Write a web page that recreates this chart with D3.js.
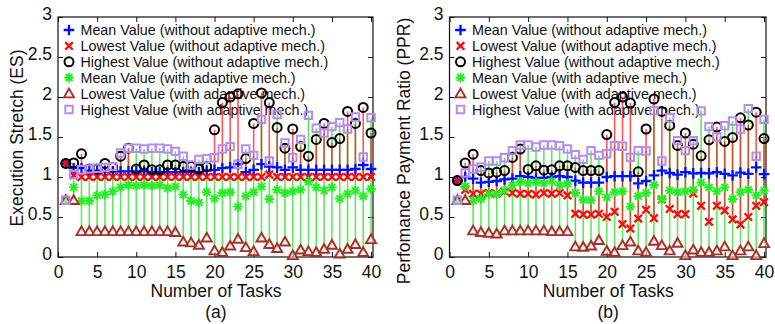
<!DOCTYPE html>
<html><head><meta charset="utf-8">
<script src="https://cdn.jsdelivr.net/npm/d3@7"></script>
<style>body{margin:0;background:#fff}svg text{font-family:"Liberation Sans",Arial,Helvetica,sans-serif;fill:#111}</style>
</head><body><svg id="c" width="775" height="324"></svg>
<script>
const tasks = d3.range(1, 41);
const xTicks = [0, 5, 10, 15, 20, 25, 30, 35, 40];
const yTicks = [0, 0.5, 1, 1.5, 2, 2.5, 3];
const legendLabels = [
  "Mean Value (without adaptive mech.)",
  "Lowest Value (without adaptive mech.)",
  "Highest Value (without adaptive mech.)",
  "Mean Value (with adaptive mech.)",
  "Lowest Value (with adaptive mech.)",
  "Highest Value (with adaptive mech.)"
];

// Panel (a): Execution Stretch
const esMeanWithout = [1.17,1.11,1.11,1.08,1.08,1.07,1.07,1.07,1.07,1.07,1.07,1.06,1.06,1.06,1.06,1.06,1.06,1.06,1.08,1.09,
  1.11,1.12,1.16,1.06,1.09,1.16,1.13,1.12,1.09,1.12,1.09,1.09,1.09,1.09,1.09,1.09,1.09,1.10,1.15,1.10];
const esLowWithout = [1.17,1.02,1.0,1.0,1.0,1.0,1.0,1.0,1.0,1.0,1.0,1.0,1.0,1.0,1.0,1.0,1.0,1.0,1.0,1.0,
  1.0,1.0,1.0,1.0,1.0,1.0,1.03,1.0,1.0,1.0,1.0,1.0,1.0,1.0,1.0,1.0,1.0,1.0,1.0,1.0];
const esHighWithout = [1.17,1.175,1.29,1.10,1.10,1.17,1.12,1.26,1.36,1.10,1.15,1.09,1.09,1.15,1.15,1.13,1.13,1.10,1.13,1.59,
  1.93,2.0,2.04,1.23,1.67,2.05,1.93,1.62,1.36,1.60,1.38,1.26,1.47,1.67,1.43,1.48,1.82,1.67,1.87,1.55];
const esMeanWith = [0.71,0.87,0.70,0.70,0.77,0.78,0.82,0.87,0.90,0.89,0.90,0.89,0.90,0.86,0.88,0.78,0.70,0.68,0.81,0.73,
  0.80,0.81,0.63,0.76,0.81,0.88,0.725,0.84,0.80,0.82,0.84,0.94,0.87,0.83,0.87,0.73,0.79,0.83,0.76,0.85];
const esLowWith = [0.71,0.71,0.32,0.32,0.32,0.32,0.32,0.32,0.32,0.32,0.32,0.32,0.32,0.32,0.31,0.19,0.18,0.15,0.24,0.08,
  0.06,0.14,0.225,0.12,0.07,0.24,0.16,0.11,0.19,0.02,0.09,0.07,0.06,0.10,0.15,0.04,0.10,0.16,0.06,0.22];
const esHighWith = [0.71,1.03,1.09,1.10,1.11,1.12,1.13,1.30,1.36,1.36,1.35,1.36,1.36,1.35,1.32,1.26,1.15,1.22,1.23,1.24,
  1.35,1.38,1.16,1.35,1.27,1.72,1.20,1.78,1.425,1.24,1.47,1.77,1.61,1.55,1.63,1.68,1.60,1.75,1.25,1.74];

// Panel (b): Performance Payment Ratio
const pprMeanWithout = [0.955,1.0,0.98,0.93,0.94,0.95,0.97,0.98,1.01,1.0,0.99,0.99,1.0,1.01,1.0,0.955,0.93,0.93,0.93,1.0,
  1.01,1.01,1.01,0.92,0.95,1.02,1.08,1.05,1.03,1.06,1.045,1.05,1.045,1.06,1.04,1.02,1.055,1.04,1.12,1.035];
const pprLowWithout = [0.955,0.84,0.79,0.79,0.80,0.79,0.82,0.80,0.79,0.79,0.78,0.80,0.79,0.80,0.77,0.54,0.53,0.53,0.54,0.50,
  0.565,0.41,0.355,0.48,0.59,0.485,0.72,0.60,0.535,0.535,0.795,0.64,0.44,0.64,0.58,0.47,0.405,0.50,0.64,0.685];
const pprHighWithout = [0.955,1.175,1.285,1.08,1.05,1.06,1.08,1.245,1.35,1.095,1.14,1.085,1.09,1.14,1.14,1.12,1.08,1.08,1.08,1.53,
  1.93,2.0,1.925,1.065,1.60,1.975,1.82,1.645,1.395,1.55,1.41,1.265,1.465,1.625,1.445,1.495,1.74,1.65,1.81,1.48];
const pprMeanWith = [0.71,0.885,0.705,0.725,0.785,0.785,0.83,0.895,0.94,0.92,0.935,0.92,0.945,0.895,0.915,0.80,0.715,0.71,0.82,0.745,
  0.81,0.82,0.63,0.76,0.80,0.90,0.725,0.83,0.81,0.82,0.84,0.93,0.87,0.82,0.87,0.725,0.81,0.84,0.77,0.83];
const pprLowWith = [0.71,0.71,0.33,0.31,0.30,0.29,0.33,0.33,0.33,0.33,0.33,0.33,0.32,0.32,0.32,0.13,0.125,0.14,0.21,0.075,
  0.06,0.145,0.19,0.08,0.06,0.20,0.145,0.08,0.175,0.02,0.09,0.06,0.06,0.08,0.13,0.02,0.08,0.13,0.02,0.17];
const pprHighWith = [0.71,1.05,1.10,1.125,1.20,1.20,1.24,1.33,1.40,1.40,1.375,1.40,1.40,1.39,1.35,1.28,1.22,1.33,1.27,1.29,
  1.39,1.385,1.245,1.33,1.325,1.83,1.20,1.74,1.455,1.33,1.455,1.825,1.63,1.50,1.64,1.70,1.60,1.855,1.26,1.72];

const svg = d3.select("#c");
const FS = 17.5;

const sym = {
  plus: s => `M${-s},0H${s}M0,${-s}V${s}`,
  x: s => `M${-s},${-s}L${s},${s}M${-s},${s}L${s},${-s}`,
  star: s => { const d = s*0.72; return `M${-s},0H${s}M0,${-s}V${s}M${-d},${-d}L${d},${d}M${-d},${d}L${d},${-d}`; },
  tri: s => `M0,${-s*1.0}L${s},${s*0.75}L${-s},${s*0.75}Z`,
  square: s => `M${-s},${-s}H${s}V${s}H${-s}Z`
};
const styles = [
  {d: sym.plus(5.3), stroke: "#0010ff", w: 2.3, fill: "none"},
  {d: sym.x(3.8), stroke: "#ff0a0a", w: 2.3, fill: "none"},
  {circle: 4.5, stroke: "#000", w: 2.0, fill: "none"},
  {d: sym.star(4.8), stroke: "#22ee22", w: 1.9, fill: "none"},
  {d: sym.tri(5.0), stroke: "#a5302a", w: 1.9, fill: "rgba(255,235,235,0.5)"},
  {d: sym.square(3.7), stroke: "#b68cf2", w: 2.0, fill: "none"}
];

function marker(g, st, px, py) {
  if (st.circle) {
    g.append("circle").attr("cx", px).attr("cy", py).attr("r", st.circle)
      .attr("fill", st.fill).attr("stroke", st.stroke).attr("stroke-width", st.w);
  } else {
    g.append("path").attr("d", st.d).attr("transform", `translate(${px},${py})`)
      .attr("fill", st.fill).attr("stroke", st.stroke).attr("stroke-width", st.w);
  }
}

function panel(cfg) {
  const x = d3.scaleLinear().domain([0, 40.25]).range([cfg.left, cfg.right]);
  const y = d3.scaleLinear().domain([0, 3]).range([257, 17]);
  const g = svg.append("g");

  // axes
  const ax = g.append("g").attr("transform", "translate(0,257)")
    .call(d3.axisBottom(x).tickValues(xTicks).tickSizeInner(-5).tickSizeOuter(0).tickPadding(8));
  const ay = g.append("g").attr("transform", `translate(${cfg.left},0)`)
    .call(d3.axisLeft(y).tickValues(yTicks).tickFormat(d3.format("")).tickSizeInner(-5).tickSizeOuter(0).tickPadding(6));
  g.append("g").attr("transform", "translate(0,17)")
    .call(d3.axisTop(x).tickValues(xTicks).tickSizeInner(-5).tickSizeOuter(0).tickFormat(""));
  g.append("g").attr("transform", `translate(${cfg.right},0)`)
    .call(d3.axisRight(y).tickValues(yTicks).tickSizeInner(-5).tickSizeOuter(0).tickFormat(""));
  g.selectAll(".domain").remove();
  g.selectAll(".tick line").attr("stroke", "#111").attr("stroke-width", 1);
  g.selectAll(".tick text").attr("font-size", FS).attr("font-family", null).attr("fill", "#111");
  ay.selectAll(".tick text").attr("dy", "0.14em");
  ax.selectAll(".tick text").attr("dy", "0.74em");
  g.append("rect").attr("x", cfg.left).attr("y", 17).attr("width", cfg.right - cfg.left).attr("height", 240)
    .attr("fill", "none").attr("stroke", "#111").attr("stroke-width", 1.2);

  // legend
  const lg = g.append("g");
  legendLabels.forEach((t, i) => {
    const ly = 30 + i * 15.9;
    marker(lg, styles[i], cfg.left + 11, ly);
    lg.append("text").attr("x", cfg.left + 22.5).attr("y", ly).attr("dy", "0.35em")
      .attr("font-size", 14.3).text(t);
  });

  // stems
  const sg = g.append("g");
  tasks.forEach((t, i) => {
    sg.append("line").attr("x1", x(t)).attr("x2", x(t))
      .attr("y1", y(cfg.lowWith[i])).attr("y2", y(cfg.highWith[i]))
      .attr("stroke", "#30ea30").attr("stroke-width", 1.6).attr("stroke-opacity", 0.8);
    sg.append("line").attr("x1", x(t)).attr("x2", x(t))
      .attr("y1", y(cfg.lowWithout[i])).attr("y2", y(cfg.highWithout[i]))
      .attr("stroke", "#ff0f0f").attr("stroke-width", 1.6).attr("stroke-opacity", 0.7);
  });

  // markers
  const series = [cfg.meanWithout, cfg.lowWithout, cfg.highWithout, cfg.meanWith, cfg.lowWith, cfg.highWith];
  series.forEach((vals, si) => {
    const mg = g.append("g");
    tasks.forEach((t, i) => marker(mg, styles[si], x(t), y(vals[i])));
  });

  // titles
  g.append("text").attr("transform", `translate(${cfg.ylx},${cfg.yly}) rotate(-90)`)
    .attr("text-anchor", "middle").attr("dy", "0.35em").attr("font-size", FS).text(cfg.ylabel);
  const cx = (cfg.left + cfg.right) / 2 + 0.5;
  g.append("text").attr("x", cx).attr("y", 297).attr("text-anchor", "middle")
    .attr("font-size", FS).text("Number of Tasks");
  g.append("text").attr("x", cx).attr("y", 318).attr("text-anchor", "middle")
    .attr("font-size", FS).text(cfg.sub);
}

panel({left: 58, right: 373, ylabel: "Execution Stretch (ES)", ylx: 17, yly: 138, sub: "(a)",
  meanWithout: esMeanWithout, lowWithout: esLowWithout, highWithout: esHighWithout,
  meanWith: esMeanWith, lowWith: esLowWith, highWith: esHighWith});
panel({left: 449.5, right: 766, ylabel: "Perfomance Payment Ratio (PPR)", ylx: 404, yly: 151, sub: "(b)",
  meanWithout: pprMeanWithout, lowWithout: pprLowWithout, highWithout: pprHighWithout,
  meanWith: pprMeanWith, lowWith: pprLowWith, highWith: pprHighWith});
</script></body></html>
